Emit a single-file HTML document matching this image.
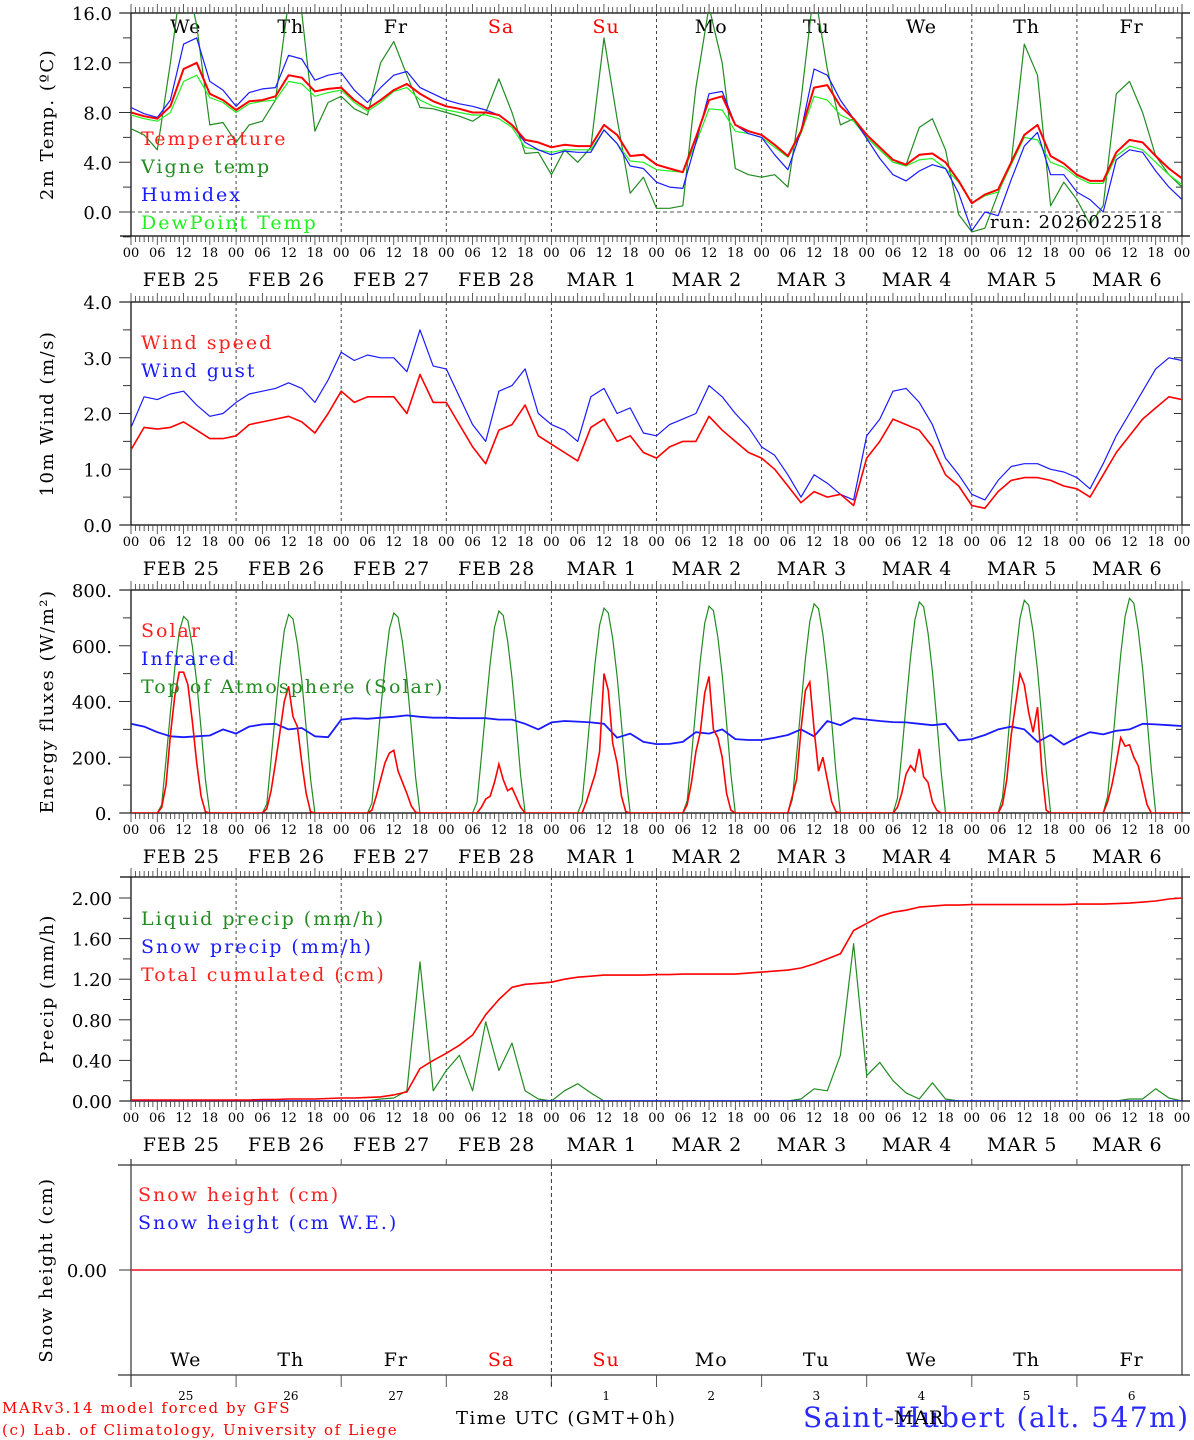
<!DOCTYPE html>
<html><head><meta charset="utf-8"><style>
html,body{margin:0;padding:0;background:#fff;}
svg{display:block;font-family:"DejaVu Serif","Liberation Serif",serif;}
</style></head><body>
<svg id="chart" width="1194" height="1440" viewBox="0 0 1194 1440" xmlns="http://www.w3.org/2000/svg"></svg>
<script>
// ---------- DATA (3-hourly from FEB 25 00 UTC, 81 points) ----------
const dayNames = ["We","Th","Fr","Sa","Su","Mo","Tu","We","Th","Fr"];
const dayNums = ["25","26","27","28","1","2","3","4","5","6"];
const dateLabels = ["FEB  25","FEB  26","FEB  27","FEB  28","MAR   1","MAR   2","MAR   3","MAR   4","MAR   5","MAR   6"];
const hourLabels = ["00","06","12","18"];
const tempTicks = ["0.0","4.0","8.0","12.0","16.0"];
const windTicks = ["0.0","1.0","2.0","3.0","4.0"];
const energyTicks = ["0.","200.","400.","600.","800."];
const precipTicks = ["0.00","0.40","0.80","1.20","1.60","2.00"];

const temperature = [8.0,7.7,7.5,8.5,11.5,12.0,9.5,9.0, 8.2,8.9,9.0,9.3,11.0,10.8,9.7,9.9, 10.0,9.0,8.3,9.0,9.8,10.3,9.5,8.9, 8.5,8.3,8.0,8.0,7.8,7.0,5.8,5.6, 5.2,5.4,5.3,5.3,7.0,6.2,4.5,4.6, 3.8,3.5,3.2,6.0,9.0,9.3,7.0,6.5, 6.2,5.4,4.5,6.5,10.0,10.2,8.5,7.5, 6.2,5.2,4.2,3.8,4.6,4.7,4.0,2.5, 0.7,1.4,1.8,4.0,6.2,7.0,4.5,3.9, 3.0,2.5,2.5,4.8,5.8,5.6,4.5,3.5,2.7];
const vigne = [6.7,6.2,5.0,12.0,20,15.0,7.0,7.2, 5.6,7.0,7.3,9.0,17,16,6.5,8.8, 9.3,8.3,7.8,12.0,13.7,11.0,8.4,8.3, 8.0,7.7,7.3,8.0,10.7,8.0,4.7,4.8, 3.0,5.0,4.0,5.2,14.0,7.5,1.5,2.8, 0.3,0.3,0.5,10.0,16.5,12.0,3.5,3.0, 2.8,3.0,2.0,9.0,18,11.5,7.0,7.5, 6.0,5.0,4.0,3.8,6.8,7.5,5.0,-0.2, -1.6,-1.3,1.5,4.0,13.5,11.0,0.5,2.4, 1.0,-1.0,0.5,9.5,10.5,8.0,4.5,3.0,2.0];
const humidex = [8.4,7.9,7.6,9.0,13.5,14.0,10.5,9.8, 8.5,9.6,9.9,10.0,12.6,12.3,10.6,11.0, 11.2,9.8,8.8,10.0,11.0,11.3,10.0,9.5, 9.0,8.7,8.5,8.2,7.8,7.0,5.6,5.0, 4.6,4.9,4.8,4.8,6.6,5.5,3.7,3.5, 2.4,2.0,1.9,5.6,9.5,9.7,7.0,6.3, 6.0,4.6,3.4,6.5,11.5,11.0,9.0,7.5, 5.9,4.3,3.0,2.5,3.3,3.8,3.5,1.5, -1.5,0.0,-0.3,2.6,5.3,6.4,3.0,3.0, 1.6,1.0,0.0,4.2,5.0,4.8,3.3,2.0,1.0];
const dewpoint = [7.8,7.5,7.3,8.0,10.5,11.0,9.2,8.8, 8.0,8.7,8.9,9.0,10.5,10.3,9.3,9.6, 9.8,8.8,8.1,8.8,9.7,10.0,9.0,8.5, 8.2,8.0,7.8,7.8,7.5,6.8,5.2,5.0, 4.8,5.0,5.0,5.0,6.6,5.5,4.1,4.0, 3.4,3.3,3.2,5.5,8.3,8.2,6.5,6.3, 6.0,5.2,4.4,6.3,9.3,9.0,7.8,7.3, 6.0,5.0,4.0,3.7,4.2,4.3,3.5,2.4, 0.7,1.3,1.6,3.8,6.0,5.8,4.0,3.6, 2.8,2.3,2.3,4.5,5.3,5.0,4.0,3.0,2.2];

const windSpeed = [1.35,1.75,1.72,1.75,1.85,1.7,1.55,1.55, 1.6,1.8,1.85,1.9,1.95,1.85,1.65,2.0, 2.4,2.2,2.3,2.3,2.3,2.0,2.7,2.2, 2.2,1.8,1.4,1.1,1.7,1.8,2.15,1.6, 1.45,1.3,1.15,1.75,1.9,1.5,1.6,1.3, 1.2,1.4,1.5,1.5,1.95,1.7,1.5,1.3, 1.2,1.0,0.7,0.4,0.6,0.5,0.55,0.35, 1.2,1.5,1.9,1.8,1.7,1.4,0.9,0.7, 0.35,0.3,0.6,0.8,0.85,0.85,0.8,0.7, 0.65,0.5,0.9,1.3,1.6,1.9,2.1,2.3,2.25];
const windGust = [1.75,2.3,2.25,2.35,2.4,2.15,1.95,2.0, 2.2,2.35,2.4,2.45,2.55,2.45,2.2,2.6, 3.1,2.95,3.05,3.0,3.0,2.75,3.5,2.85, 2.8,2.3,1.8,1.5,2.4,2.5,2.8,2.0, 1.8,1.7,1.5,2.3,2.45,2.0,2.1,1.65, 1.6,1.8,1.9,2.0,2.5,2.3,2.0,1.75, 1.4,1.25,0.9,0.5,0.9,0.75,0.55,0.45, 1.6,1.9,2.4,2.45,2.2,1.8,1.2,0.9, 0.55,0.45,0.8,1.05,1.1,1.1,1.0,0.95, 0.85,0.65,1.1,1.6,2.0,2.4,2.8,3.0,2.95];

const infrared = [320,310,290,275,272,275,278,300, 285,310,318,320,300,305,275,272, 335,340,338,342,345,350,345,342, 342,340,340,340,335,335,320,300, 325,330,328,325,320,270,285,255, 247,248,255,290,285,300,265,262, 262,270,280,300,275,330,315,340, 335,330,326,325,320,315,320,260, 265,280,300,310,300,255,280,245, 270,290,282,295,300,320,318,315,312];

// hourly values for hours 06..18 of each day (13 per day)
const solar = [
 0,20,100,280,420,505,505,460,330,180,60,5,0,
 0,15,80,180,290,400,455,345,310,180,70,5,0,
 0,10,60,120,180,215,225,150,110,70,25,3,0,
 0,0,20,50,60,110,175,120,80,90,55,20,0,
 0,0,40,90,140,220,500,440,250,180,60,5,0,
 0,30,110,220,290,430,490,300,270,200,70,10,0,
 0,60,120,300,440,470,300,150,200,120,40,5,0,
 0,20,70,140,170,150,230,130,110,40,10,0,0,
 0,30,120,280,390,500,460,360,290,380,150,10,0,
 0,40,100,180,270,240,245,200,170,100,30,0,0];
const toa = [
 0,30,190,360,520,650,705,690,600,470,300,120,0,
 0,32,192,363,525,655,712,696,606,475,304,124,0,
 0,35,195,367,530,660,718,702,612,480,308,128,0,
 0,38,198,371,535,666,725,709,618,485,312,132,0,
 0,40,200,376,542,674,735,718,626,492,318,136,0,
 0,44,205,380,547,680,742,726,632,497,322,140,0,
 0,48,208,385,553,687,750,733,640,503,327,145,0,
 0,52,212,390,558,693,757,740,646,508,331,150,0,
 0,56,215,394,563,698,763,746,651,513,335,154,0,
 0,60,220,398,568,705,770,753,657,518,340,158,0];

const totalCum = [0.01,0.01,0.01,0.01,0.01,0.01,0.01,0.01, 0.01,0.01,0.015,0.015,0.02,0.02,0.02,0.025, 0.03,0.03,0.035,0.04,0.06,0.09,0.32,0.40, 0.47,0.55,0.65,0.85,1.0,1.12,1.15,1.16, 1.17,1.20,1.22,1.23,1.24,1.24,1.24,1.24, 1.245,1.245,1.25,1.25,1.25,1.25,1.25,1.26, 1.27,1.28,1.29,1.31,1.35,1.40,1.45,1.68, 1.75,1.82,1.86,1.88,1.91,1.92,1.93,1.93, 1.935,1.935,1.935,1.935,1.935,1.935,1.935,1.935, 1.94,1.94,1.94,1.945,1.95,1.96,1.97,1.99,2.0];
const liquid = [0,0,0,0,0,0,0,0, 0,0,0,0,0,0,0,0, 0,0,0,0.02,0.03,0.1,1.37,0.1, 0.3,0.45,0.1,0.78,0.3,0.57,0.1,0.02, 0,0.1,0.17,0.08,0,0,0,0, 0,0,0,0,0,0,0,0, 0,0,0,0.02,0.12,0.1,0.45,1.55, 0.25,0.38,0.2,0.08,0.02,0.18,0.02,0, 0,0,0,0,0,0,0,0, 0,0,0,0,0.02,0.02,0.12,0.03,0];
const snowPrecip = new Array(81).fill(0);
const snowHeight = new Array(81).fill(0);

// ---------- DRAWING ----------
const NS="http://www.w3.org/2000/svg";
const svg=document.getElementById('chart');
const X0=131, X1=1182, HOURS=240;
function xh(h){return X0+h*(X1-X0)/HOURS;}
function mk(tag,attrs,parent){const e=document.createElementNS(NS,tag);for(const k in attrs)e.setAttribute(k,attrs[k]);(parent||svg).appendChild(e);return e;}
function txt(s,x,y,size,color,anchor,parent,ls){const t=mk('text',{x:x,y:y,'font-size':size,fill:color||'#000','text-anchor':anchor||'start'},parent);if(ls)t.setAttribute('letter-spacing',ls);t.setAttribute('xml:space','preserve');t.textContent=s;return t;}

function makeY(top,bottom,ymin,ymax){return v=>bottom-(v-ymin)*(bottom-top)/(ymax-ymin);}

function frame(p){
  const g=mk('g',{});
  
  
  mk('line',{x1:120,y1:p.top,x2:1190,y2:p.top,stroke:'#000','stroke-width':1.2},g);
  mk('line',{x1:120,y1:p.bottom,x2:1190,y2:p.bottom,stroke:'#000','stroke-width':1.2},g);
  mk('line',{x1:X0,y1:p.top,x2:X0,y2:p.bottom,stroke:'#000','stroke-width':1.2},g);
  mk('line',{x1:X1,y1:p.top,x2:X1,y2:p.bottom,stroke:'#000','stroke-width':1.2},g);
  for(let h=0;h<=HOURS;h++){
    const x=xh(h), L=(h%6===0)?9:6;
    mk('line',{x1:x,y1:p.top,x2:x,y2:p.top-L,stroke:'#333','stroke-width':0.8},g);
    mk('line',{x1:x,y1:p.bottom,x2:x,y2:p.bottom+L,stroke:'#333','stroke-width':0.8},g);
  }
  for(let d=1;d<10;d++){mk('line',{x1:xh(d*24),y1:p.top,x2:xh(d*24),y2:p.bottom,stroke:'#444','stroke-width':1,'stroke-dasharray':'3,3'},g);}
  const y=p.y;
  for(let v=p.ymin0;v<=p.ymax0+1e-9;v+=p.minor){
    const yy=y(v), major=Math.abs(v/p.major-Math.round(v/p.major))<1e-6;
    mk('line',{x1:X0,y1:yy,x2:X0-(major?12:8),y2:yy,stroke:'#333','stroke-width':1},g);
    mk('line',{x1:X1,y1:yy,x2:X1-(major?8:6),y2:yy,stroke:'#333','stroke-width':1},g);
  }
  p.ticks.forEach((s,i)=>{const t=txt(s,112,y(p.ymin0+i*p.major)+7,18,'#000','end',g);
    });
  const tt=mk('text',{x:0,y:0,'font-size':18,'letter-spacing':1.5,fill:'#000','text-anchor':'middle',transform:`translate(53,${(p.top+p.bottom)/2}) rotate(-90)`},g);
  tt.textContent=p.title;  
  for(let d=0;d<=10;d++){
    for(let k=0;k<4;k++){ if(d===10&&k>0)break;
      const t=txt(hourLabels[k],xh(d*24+k*6),p.bottom+21,13,'#000','middle',g);
      }
  }
  for(let d=0;d<10;d++){const t=txt(dateLabels[d],xh(d*24+11.5),p.bottom+50,19,'#000','middle',g,1);
    }
  const cp=mk('clipPath',{id:'clip-'+p.name},g);
  mk('rect',{x:X0,y:p.top,width:X1-X0,height:p.bottom-p.top},cp);
  return g;
}
function series(data,step,y,color,w,name,g,clip){
  const pts=data.map((v,i)=>xh(i*step).toFixed(1)+','+y(v).toFixed(1)).join(' ');
  const pl=mk('polyline',{points:pts,fill:'none',stroke:color,'stroke-width':w,'stroke-linejoin':'round','clip-path':'url(#clip-'+clip+')'},g);
  
  
  return pl;
}
function dayHourly(arr,y,color,w,name,g,clip){
  const pts=[];
  pts.push([0,0]);
  for(let d=0;d<10;d++){for(let k=0;k<13;k++){pts.push([d*24+6+k,arr[d*13+k]]);}}
  pts.push([240,0]);
  const s=pts.map(p=>xh(p[0]).toFixed(1)+','+y(p[1]).toFixed(1)).join(' ');
  const pl=mk('polyline',{points:s,fill:'none',stroke:color,'stroke-width':w,'clip-path':'url(#clip-'+clip+')'},g);
  
  
}
function legend(items,x,y0,g){items.forEach((it,i)=>{const t=txt(it[0],x,y0+i*28,19,it[1],'start',g,2);
  });}

// Panel 1: temperature
(function(){
  const p={name:'temp',top:13,bottom:236,ymin0:0,ymax0:16,major:4,minor:2,ticks:tempTicks,title:'2m Temp. (ºC)'};
  p.y=makeY(13,212,0,16);
  const g=frame(p);
  mk('line',{x1:X0,y1:p.y(-2),x2:X0-8,y2:p.y(-2),stroke:'#333'},g);
  mk('line',{x1:X0,y1:p.y(0),x2:X1,y2:p.y(0),stroke:'#555','stroke-dasharray':'4,3'},g);
  dayNames.forEach((n,d)=>{const t=txt(n,xh(d*24+12.5),33,19,(d===3||d===4)?'#f00':'#000','middle',g,1);
    });
  series(vigne,3,p.y,'#228B22',1.2,'vigne-temp-line',g,'temp');
  series(dewpoint,3,p.y,'#22ee22',1.2,'dewpoint-line',g,'temp');
  series(humidex,3,p.y,'#1a1aff',1.2,'humidex-line',g,'temp');
  series(temperature,3,p.y,'#ff0000',2,'temperature-line',g,'temp');
  legend([['Temperature','#ff2020'],['Vigne temp','#228B22'],['Humidex','#1a1aff'],['DewPoint Temp','#22ee22']],141,145,g);
  const r=txt('run: 2026022518',990,228,18,'#000','start',g,1);
  
})();
// Panel 2: wind
(function(){
  const p={name:'wind',top:302,bottom:525,ymin0:0,ymax0:4,major:1,minor:0.5,ticks:windTicks,title:'10m Wind (m/s)'};
  p.y=makeY(302,525,0,4);
  const g=frame(p);
  series(windGust,3,p.y,'#1a1aff',1.2,'wind-gust-line',g,'wind');
  series(windSpeed,3,p.y,'#ff0000',1.6,'wind-speed-line',g,'wind');
  legend([['Wind speed','#ff2020'],['Wind gust','#1a1aff']],141,349,g);
})();
// Panel 3: energy
(function(){
  const p={name:'energy',top:590,bottom:813,ymin0:0,ymax0:800,major:200,minor:100,ticks:energyTicks,title:'Energy fluxes (W/m²)'};
  p.y=makeY(590,813,0,800);
  const g=frame(p);
  dayHourly(toa,p.y,'#228B22',1.2,'toa-solar-line',g,'energy');
  series(infrared,3,p.y,'#1a1aff',1.8,'infrared-line',g,'energy');
  dayHourly(solar,p.y,'#ff0000',1.6,'solar-line',g,'energy');
  legend([['Solar','#ff2020'],['Infrared','#1a1aff'],['Top of Atmosphere (Solar)','#228B22']],141,637,g);
})();
// Panel 4: precip
(function(){
  const p={name:'precip',top:877,bottom:1101,ymin0:0,ymax0:2.0,major:0.4,minor:0.2,ticks:precipTicks,title:'Precip (mm/h)'};
  p.y=makeY(898,1101,0,2.0);
  const g=frame(p);
  series(liquid,3,p.y,'#228B22',1.2,'liquid-precip-line',g,'precip');
  series(snowPrecip,3,p.y,'#1a1aff',1.6,'snow-precip-line',g,'precip');
  series(totalCum,3,p.y,'#ff0000',1.6,'total-cumulated-line',g,'precip');
  legend([['Liquid precip (mm/h)','#228B22'],['Snow precip (mm/h)','#1a1aff'],['Total cumulated (cm)','#ff2020']],141,925,g);
})();
// Panel 5: snow height
(function(){
  const top=1165,bottom=1375;
  const y=v=>1270-v*100;
  const g=mk('g',{});
  
  
  mk('line',{x1:118,y1:top,x2:1190,y2:top,stroke:'#333','stroke-width':1.2},g);
  mk('line',{x1:118,y1:bottom,x2:1190,y2:bottom,stroke:'#333','stroke-width':1.2},g);
  mk('line',{x1:X0,y1:top-6,x2:X0,y2:bottom+12,stroke:'#333','stroke-width':1.2},g);
  mk('line',{x1:X1,y1:top,x2:X1,y2:bottom,stroke:'#333','stroke-width':1.2},g);
  for(let d=1;d<10;d++){const x=xh(d*24);
    mk('line',{x1:x,y1:top-6,x2:x,y2:top,stroke:'#555'},g);
    mk('line',{x1:x,y1:bottom,x2:x,y2:bottom+12,stroke:'#555'},g);}
  mk('line',{x1:xh(96),y1:top,x2:xh(96),y2:bottom+12,stroke:'#333','stroke-dasharray':'4,3'},g);
  mk('line',{x1:X0,y1:y(0),x2:X0-12,y2:y(0),stroke:'#333'},g);
  const tl=txt('0.00',107,y(0)+7,18,'#000','end',g);
  
  const tt=mk('text',{x:0,y:0,'font-size':18,'letter-spacing':1.5,fill:'#000','text-anchor':'middle',transform:`translate(52,${(top+bottom)/2}) rotate(-90)`},g);
  tt.textContent='Snow height (cm)';  
  const cp=mk('clipPath',{id:'clip-snow'},g);
  mk('rect',{x:X0,y:top,width:X1-X0,height:bottom-top},cp);
  series(snowHeight,3,y,'#1a1aff',1.2,'snow-we-line',g,'snow');
  series(snowHeight,3,y,'#ff2020',1.6,'snow-height-line',g,'snow');
  legend([['Snow height (cm)','#ff2020'],['Snow height (cm W.E.)','#1a1aff']],138,1201,g);
  dayNames.forEach((n,d)=>{const t=txt(n,xh(d*24+12.5),1366,19,(d===3||d===4)?'#f00':'#000','middle',g,1);
    });
  dayNums.forEach((n,d)=>{const t=txt(n,xh(d*24+12.5),1400,12,'#000','middle',g);
    });
  const xt=txt('Time UTC (GMT+0h)',456,1424,18,'#000','start',g,1.5);
  
})();
// footer
(function(){
  const a=txt('MARv3.14 model forced by GFS',2,1413,15,'#ff0000','start',null,1.6);
  
  const b=txt('(c) Lab. of Climatology, University of Liege',2,1435,15,'#ff0000','start',null,1.6);
  
  const c=txt('Saint-Hubert (alt. 547m)',803,1427,28,'#2a2aff','start',null,1.5);
  
  const m=txt('MAR',919,1424,19,'#000','middle',null,1);
  
})();
</script>
</body></html>
